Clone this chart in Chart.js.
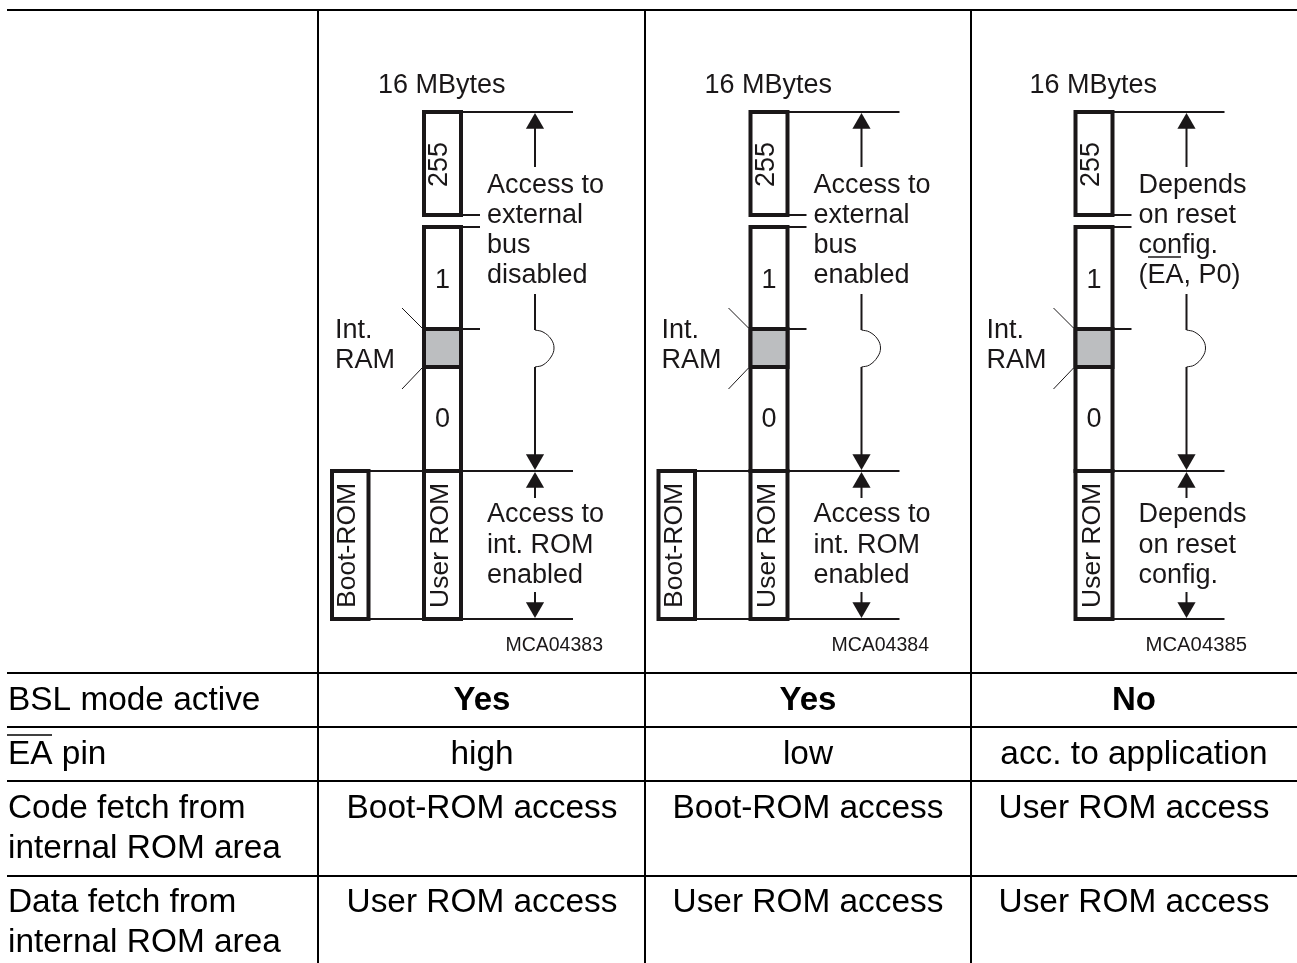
<!DOCTYPE html>
<html>
<head>
<meta charset="utf-8">
<title>BSL memory map</title>
<script src="https://cdn.jsdelivr.net/npm/chart.js@4"></script>
<style>
  html, body { margin: 0; padding: 0; background: #fff; overflow: hidden; }
  canvas { display: block; }
</style>
</head>
<body>
<canvas id="myChart" width="1297" height="963"></canvas>
<script>
// table content
const rowLabels = [['BSL mode active'], ['EA pin'], ['Code fetch from', 'internal ROM area'], ['Data fetch from', 'internal ROM area']];
const bslActive = ['Yes', 'Yes', 'No'];
const eaPin = ['high', 'low', 'acc. to application'];
const codeFetch = ['Boot-ROM access', 'Boot-ROM access', 'User ROM access'];
const dataFetch = ['User ROM access', 'User ROM access', 'User ROM access'];

// memory map content, one entry per panel
const sizeLabel = '16 MBytes';
const segmentNames = ['255', '1', '0', 'User ROM'];
const bootName = 'Boot-ROM';
const ramName = ['Int.', 'RAM'];
const hasBootRom = [true, true, false];
const upperNotes = [
  ['Access to', 'external', 'bus', 'disabled'],
  ['Access to', 'external', 'bus', 'enabled'],
  ['Depends', 'on reset', 'config.', '(EA, P0)']
];
const lowerNotes = [
  ['Access to', 'int. ROM', 'enabled'],
  ['Access to', 'int. ROM', 'enabled'],
  ['Depends', 'on reset', 'config.']
];
const figureIds = ['MCA04383', 'MCA04384', 'MCA04385'];

// address boundaries, in page units from the top
const mapTop = 112;
const seg255End = 215;
const seg1Start = 227;
const ramStart = 329;
const ramEnd = 367;
const romStart = 471;
const mapEnd = 619;

// grid
const tableLeft = 7;
const tableRight = 1297;
const tableBottom = 963;
const rowLines = [10, 673, 727, 781, 876];
const columnLines = [318, 645, 971];
const columnCentres = [482, 808, 1134];
const panelOffsets = [0, 326.5, 651.5];

const ink = '#1a1718';
const black = '#000';
var datasets = [];

function line(points, width, color, extra) {
  datasets.push(Object.assign({
    data: points.map(function (p) { return { x: p[0], y: p[1] }; }),
    showLine: true,
    pointRadius: 0,
    borderColor: color || ink,
    backgroundColor: 'transparent',
    borderWidth: width,
    borderCapStyle: 'butt',
    borderJoinStyle: 'miter',
    clip: false
  }, extra || {}));
}

function box(x0, y0, x1, y1, width, fillColor) {
  var extra = { borderCapStyle: 'square' };
  if (fillColor) {
    extra.fill = 'shape';
    extra.backgroundColor = fillColor;
  }
  line([[x0, y0], [x1, y0], [x1, y1], [x0, y1], [x0, y0]], width, ink, extra);
}

function arrow(x, tipY, up) {
  var r = 10.5;
  datasets.push({
    data: [{ x: x, y: up ? tipY + r : tipY - r }],
    showLine: false,
    pointStyle: 'triangle',
    pointRadius: r,
    pointRotation: up ? 0 : 180,
    pointBackgroundColor: ink,
    pointBorderWidth: 0,
    clip: false
  });
}

// table grid
rowLines.forEach(function (y) {
  line([[tableLeft, y], [tableRight, y]], 2, black);
});
columnLines.forEach(function (x) {
  line([[x, rowLines[0]], [x, tableBottom]], 2, black);
});
line([[7, 735], [52, 735]], 1.6, black);

// memory maps
panelOffsets.forEach(function (dx, i) {
  var left = 424 + dx;
  var right = 461 + dx;
  var arrowX = 535 + dx;
  var tickEnd = 480 + dx;
  var longEnd = 573 + dx;

  box(left, ramStart, right, ramEnd, 4, '#bcbec0');
  box(left, mapTop, right, seg255End, 4);
  box(left, seg1Start, right, romStart, 4);
  box(left, romStart, right, mapEnd, 4);

  line([[right, mapTop], [longEnd, mapTop]], 2);
  line([[right, seg255End], [tickEnd, seg255End]], 2);
  line([[right, seg1Start], [tickEnd, seg1Start]], 2);
  line([[right, ramStart], [tickEnd, ramStart]], 2);
  line([[right, romStart], [longEnd, romStart]], 2);
  line([[right, mapEnd], [longEnd, mapEnd]], 2);

  if (hasBootRom[i]) {
    box(332 + dx, romStart, 368.5 + dx, mapEnd, 4);
    line([[368.5 + dx, romStart], [left, romStart]], 2);
    line([[368.5 + dx, mapEnd], [left, mapEnd]], 2);
  }

  // pointers to the Int. RAM block
  line([[402 + dx, 308], [422 + dx, 328]], 1);
  line([[422 + dx, 368], [402 + dx, 389]], 1);

  // dimension lines
  line([[arrowX, 125], [arrowX, 167]], 2);
  line([[arrowX, 294], [arrowX, 330]], 2);
  line([[arrowX, 367], [arrowX, 458]], 2);
  line([[arrowX, 484], [arrowX, 498]], 2);
  line([[arrowX, 592], [arrowX, 606]], 2);
  line([[arrowX, 330], [arrowX + 8, 332], [arrowX + 16, 339], [arrowX + 19, 348],
        [arrowX + 16, 357], [arrowX + 8, 365], [arrowX, 367]], 1, ink, { tension: 0.4 });

  arrow(arrowX, mapTop + 1, true);
  arrow(arrowX, romStart - 1, false);
  arrow(arrowX, romStart + 1, true);
  arrow(arrowX, mapEnd - 1, false);
});
line([[1148, 257], [1181, 257]], 1.6);

// text, placed through the scales in the same page units as the marks
const textPlugin = {
  id: 'pageText',
  afterDatasetsDraw: function (chart) {
    var c = chart.ctx;
    var sx = chart.scales.x;
    var sy = chart.scales.y;

    function put(text, x, y, font, color, align, rotated) {
      c.save();
      c.translate(sx.getPixelForValue(x), sy.getPixelForValue(y));
      if (rotated) c.rotate(-Math.PI / 2);
      c.font = font;
      c.fillStyle = color;
      c.textAlign = align || 'left';
      c.textBaseline = 'alphabetic';
      c.fillText(text, 0, 0);
      c.restore();
    }

    const family = '"Liberation Sans", Arial, sans-serif';
    const tableFont = '33.4px ' + family;
    const tableBold = 'bold 33px ' + family;
    const mapFont = '27px ' + family;
    const sideFont = '26.5px ' + family;
    const idRight = [603, 929, 1247];
    const idSize = [19.5, 19.5, 20.3];

    // first column
    var labelBase = [[710], [764], [818, 858], [912, 952]];
    rowLabels.forEach(function (lines, r) {
      lines.forEach(function (t, k) {
        put(t, 8, labelBase[r][k], tableFont, black);
      });
    });

    columnCentres.forEach(function (x, i) {
      put(bslActive[i], x, 710, tableBold, black, 'center');
      put(eaPin[i], x, 764, tableFont, black, 'center');
      put(codeFetch[i], x, 818, tableFont, black, 'center');
      put(dataFetch[i], x, 912, tableFont, black, 'center');
    });

    panelOffsets.forEach(function (dx, i) {
      put(sizeLabel, 378 + dx, 93, mapFont, ink);
      put(segmentNames[0], 447 + dx, 187, mapFont, ink, 'left', true);
      put(segmentNames[1], 442.5 + dx, 288, mapFont, ink, 'center');
      put(segmentNames[2], 442.5 + dx, 427, mapFont, ink, 'center');
      put(segmentNames[3], 448 + dx, 608, sideFont, ink, 'left', true);
      if (hasBootRom[i]) put(bootName, 355 + dx, 608, sideFont, ink, 'left', true);
      put(ramName[0], 335 + dx, 338, mapFont, ink);
      put(ramName[1], 335 + dx, 368, mapFont, ink);
      upperNotes[i].forEach(function (t, k) {
        put(t, 487 + dx, 193 + k * 30, mapFont, ink);
      });
      lowerNotes[i].forEach(function (t, k) {
        put(t, 487 + dx, 522 + k * 30.5, mapFont, ink);
      });
      put(figureIds[i], idRight[i], 651, idSize[i] + 'px ' + family, ink, 'right');
    });
  }
};

new Chart(document.getElementById('myChart'), {
  type: 'scatter',
  data: { datasets: datasets },
  plugins: [textPlugin],
  options: {
    responsive: false,
    animation: false,
    layout: { padding: 0, autoPadding: false },
    plugins: { legend: { display: false }, tooltip: { enabled: false } },
    scales: {
      x: { type: 'linear', min: 0, max: 1297, display: false },
      y: { type: 'linear', min: 0, max: 963, reverse: true, display: false }
    }
  }
});
</script>
</body>
</html>
